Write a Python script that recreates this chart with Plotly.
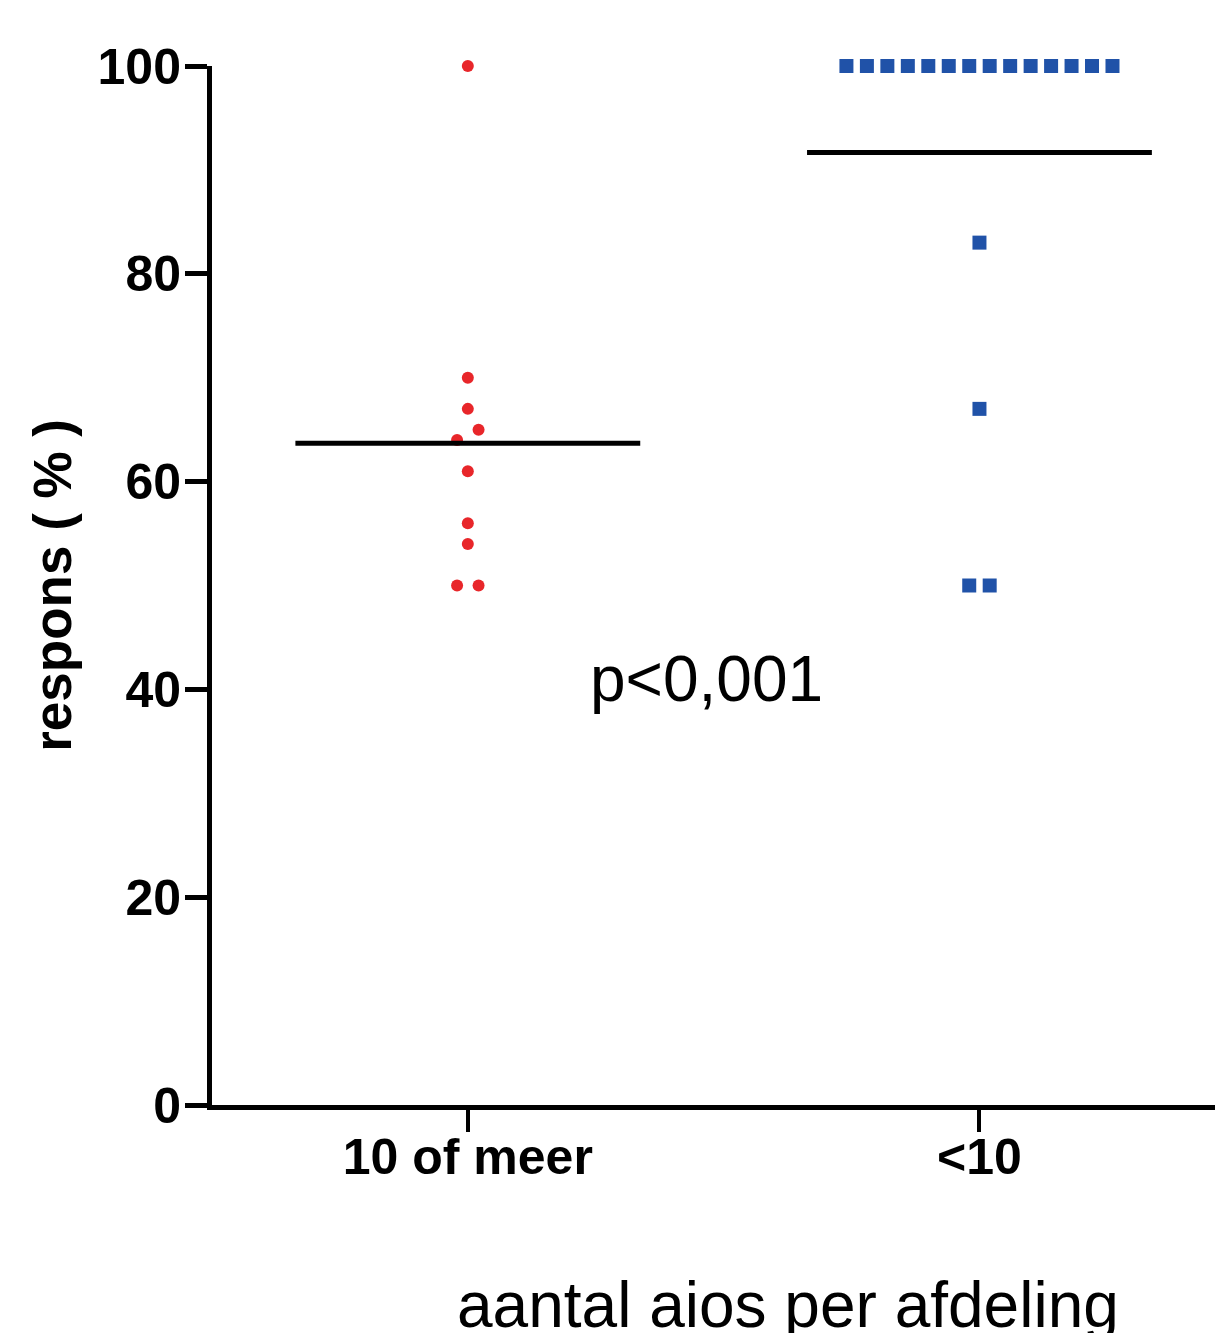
import plotly.graph_objects as go

# ---- data ----
categories = ["10 of meer", "<10"]
red_values = [100, 70, 67, 65, 64, 61, 56, 54, 50, 50]
blue_values = [100] * 14 + [83, 67, 50, 50]
y_ticks = [0, 20, 40, 60, 80, 100]
p_text = "p<0,001"
x_title = "aantal aios per afdeling"
y_title = "respons ( % )"


def swarm_offsets(values, spacing, tol=1.5):
    """Spread near-equal values symmetrically around the group centre."""
    order = sorted(range(len(values)), key=lambda i: values[i])
    offs = [0.0] * len(values)
    groups, cur = [], [order[0]]
    for i in order[1:]:
        if values[i] - values[cur[-1]] < tol:
            cur.append(i)
        else:
            groups.append(cur)
            cur = [i]
    groups.append(cur)
    for g in groups:
        n = len(g)
        for k, i in enumerate(g):
            offs[i] = (k - (n - 1) / 2) * spacing
    return offs


fig = go.Figure()

series = [
    (red_values, dict(symbol="circle", size=12, color="#e8262a"), 0.042),
    (blue_values, dict(symbol="square", size=14, color="#2052a8"), 0.040),
]
half_w = 0.337
for gi, (vals, marker, sp) in enumerate(series):
    offs = swarm_offsets(vals, sp)
    fig.add_trace(go.Scatter(
        x=[gi + o for o in offs], y=vals, mode="markers",
        marker=dict(**marker, line=dict(width=0)),
        showlegend=False, hoverinfo="y", cliponaxis=False,
    ))
    mean = sum(vals) / len(vals)
    fig.add_trace(go.Scatter(
        x=[gi - half_w, gi + half_w], y=[mean, mean], mode="lines",
        line=dict(color="black", width=5), showlegend=False, hoverinfo="skip",
    ))

fig.add_annotation(
    x=0.466, y=41.0, xref="x", yref="y", text=p_text, showarrow=False,
    font=dict(family="Liberation Sans", size=64, color="black"),
    xanchor="center", yanchor="middle",
)
fig.add_annotation(
    x=-0.158, y=0.5, xref="paper", yref="paper", text=y_title, showarrow=False,
    textangle=-90, font=dict(family="Liberation Sans", size=53, color="black", weight="bold"),
    xanchor="center", yanchor="middle",
)
fig.add_annotation(
    x=0.5696, y=-0.156, xref="paper", yref="paper", text=x_title, showarrow=False,
    font=dict(family="Liberation Sans", size=64, color="black"),
    xanchor="center", yanchor="top",
)

fig.update_layout(
    width=1223, height=1333,
    margin=dict(l=204, r=8, t=58, b=236),
    paper_bgcolor="white", plot_bgcolor="white",
    font=dict(family="Liberation Sans", color="black"),
    xaxis=dict(
        range=[-0.5, 1.476], tickmode="array", tickvals=[0, 1], ticktext=categories,
        showgrid=False, zeroline=False, showline=True, linecolor="black", linewidth=5,
        ticks="outside", ticklen=22, tickwidth=4, tickcolor="black",
        ticklabelstandoff=-18,
        tickfont=dict(family="Liberation Sans", size=50, color="black", weight="bold"),
    ),
    yaxis=dict(
        range=[0, 100], tickmode="array", tickvals=y_ticks,
        showgrid=False, zeroline=False, showline=True, linecolor="black", linewidth=5,
        ticks="outside", ticklen=22, tickwidth=5, tickcolor="black",
        ticklabelstandoff=-6,
        tickfont=dict(family="Liberation Sans", size=50, color="black", weight="bold"),
    ),
)

fig.write_html("out.html")
